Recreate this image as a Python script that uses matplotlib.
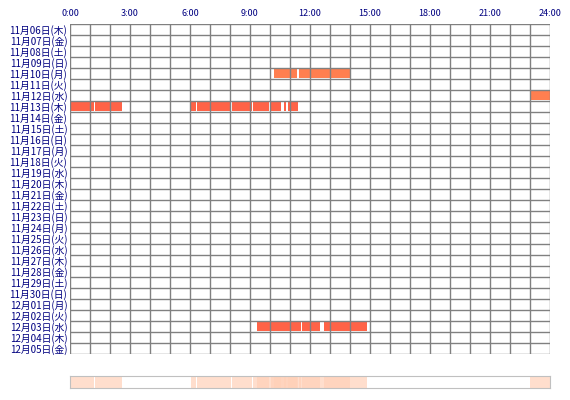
import matplotlib
matplotlib.use("Agg")
import matplotlib.pyplot as plt

plt.rcParams['font.family'] = ['Noto Sans CJK JP', 'DejaVu Sans']

dates = ["11月06日(木)","11月07日(金)","11月08日(土)","11月09日(日)","11月10日(月)","11月11日(火)",
         "11月12日(水)","11月13日(木)","11月14日(金)","11月15日(土)","11月16日(日)","11月17日(月)",
         "11月18日(火)","11月19日(水)","11月20日(木)","11月21日(金)","11月22日(土)","11月23日(日)",
         "11月24日(月)","11月25日(火)","11月26日(水)","11月27日(木)","11月28日(金)","11月29日(土)",
         "11月30日(日)","12月01日(月)","12月02日(火)","12月03日(水)","12月04日(木)","12月05日(金)"]
# sessions: (start hour, end hour)
sessions_1110 = [(10.2, 11.35), (11.45, 14.0)]
sessions_1112 = [(23.0, 24.0)]
sessions_1113 = [(0.05, 1.2), (1.27, 2.6), (6.03, 6.3), (6.37, 8.03), (8.08, 9.08), (9.13, 9.93),
                 (10.05, 10.55), (10.7, 10.8), (10.9, 11.38)]
sessions_1203 = [(9.37, 11.57), (11.61, 12.5), (12.7, 14.85)]
rows = {4: (sessions_1110, '#FF7F50'), 6: (sessions_1112, '#FF7F50'),
        7: (sessions_1113, '#FF6347'), 27: (sessions_1203, '#FF6347')}
xticks = [0, 3, 6, 9, 12, 15, 18, 21, 24]
xticklabels = ["0:00", "3:00", "6:00", "9:00", "12:00", "15:00", "18:00", "21:00", "24:00"]

fig = plt.figure(figsize=(5.7, 4.0), dpi=100)
ax = fig.add_axes([70/570, 46/400, 480/570, 330/400])
n = len(dates)
for r, (segs, col) in rows.items():
    ax.broken_barh([(s, e - s) for s, e in segs], (r + 0.1, 0.8), facecolors=col, zorder=1)
for h in range(25):
    ax.axvline(h, color='#808080', lw=1, zorder=2)
for i in range(n + 1):
    ax.axhline(i, color='#808080', lw=1, zorder=2)
ax.set_xlim(0, 24)
ax.set_ylim(n, 0)
ax.set_xticks(xticks)
ax.set_xticklabels(xticklabels, fontsize=6.5, color='#000080')
ax.xaxis.tick_top()
ax.set_yticks([i + 0.5 for i in range(n)])
ax.set_yticklabels(dates, fontsize=7, color='#000080')
ax.tick_params(length=0, pad=2)
ax.tick_params(axis='x', pad=4)
for s in ax.spines.values():
    s.set_visible(False)

ax2 = fig.add_axes([70/570, 12/400, 480/570, 12/400])
for r, (segs, col) in rows.items():
    ax2.broken_barh([(s, e - s) for s, e in segs], (0, 1), facecolors='#FFD0B8', alpha=0.7)
ax2.set_xlim(0, 24)
ax2.set_ylim(0, 1)
ax2.set_xticks([]); ax2.set_yticks([])
for s in ax2.spines.values():
    s.set_color('#C0C0C0')
fig.savefig("out.png", dpi=100, facecolor='white')
